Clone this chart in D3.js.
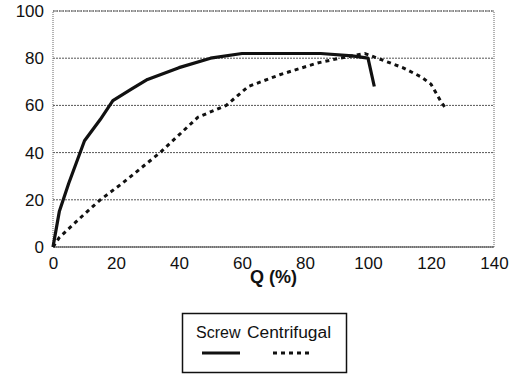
<!DOCTYPE html>
<html>
<head>
<meta charset="utf-8">
<script src="https://cdn.jsdelivr.net/npm/d3@7"></script>
<style>
  body { margin: 0; background: #fff; }
  text { font-family: "Liberation Sans", Arial, sans-serif; fill: #111; }
</style>
</head>
<body>
<svg id="chart" width="517" height="374"></svg>
<script>
// Efficiency vs flow
const screwQ = [0, 2, 5, 10, 15, 19, 25, 30, 40, 50, 60, 70, 85, 95, 100, 102];
const screwE = [0, 15, 27, 45, 54, 62, 67, 71, 76, 80, 82, 82, 82, 81, 80, 68];
const centQ = [0, 2, 10, 15, 22, 34, 46, 55, 62, 72, 84, 91, 99, 103, 111, 117, 120, 123, 124.5];
const centE = [0, 4, 14, 20, 27, 40, 55, 60, 68, 73, 78, 80, 82, 80, 76, 72, 69, 62, 59];
const xTicks = [0, 20, 40, 60, 80, 100, 120, 140];
const yTicks = [0, 20, 40, 60, 80, 100];
const seriesNames = ["Screw", "Centrifugal"];

const svg = d3.select("#chart");
const m = { left: 53, top: 11, right: 494, bottom: 247 };

const x = d3.scaleLinear().domain([0, 140]).range([m.left, m.right]);
const y = d3.scaleLinear().domain([0, 100]).range([m.bottom, m.top]);

// Grid
svg.append("g")
    .selectAll("line")
    .data(yTicks.filter(d => d > 0))
    .enter().append("line")
    .attr("x1", m.left).attr("x2", m.right)
    .attr("y1", d => y(d)).attr("y2", d => y(d))
    .attr("stroke", "#555")
    .attr("stroke-width", 1)
    .attr("stroke-dasharray", "2,1");

// Plot frame
svg.append("rect")
    .attr("x", m.left).attr("y", m.top)
    .attr("width", m.right - m.left).attr("height", m.bottom - m.top)
    .attr("fill", "none")
    .attr("stroke", "#666")
    .attr("stroke-dasharray", "1,1");

svg.append("line")
    .attr("x1", m.left).attr("x2", m.right)
    .attr("y1", m.bottom).attr("y2", m.bottom)
    .attr("stroke", "#333");

// Axes
const xAxis = svg.append("g")
    .attr("transform", `translate(0,${m.bottom})`)
    .call(d3.axisBottom(x).tickValues(xTicks).tickSize(0).tickPadding(10));
const yAxis = svg.append("g")
    .attr("transform", `translate(${m.left},0)`)
    .call(d3.axisLeft(y).tickValues(yTicks).tickSize(0).tickPadding(9));
[xAxis, yAxis].forEach(a => {
    a.select(".domain").remove();
    a.selectAll("text").attr("font-size", 17).attr("font-family", "Liberation Sans, Arial, sans-serif").attr("fill", "#111");
});

svg.append("text")
    .attr("x", (x(0) + x(140)) / 2)
    .attr("y", 283)
    .attr("text-anchor", "middle")
    .attr("font-size", 18)
    .attr("font-weight", "bold")
    .text("Q (%)");

// Lines
const line = d3.line().x(d => x(d[0])).y(d => y(d[1]));
const screw = screwQ.map((q, i) => [q, screwE[i]]);
const cent = centQ.map((q, i) => [q, centE[i]]);

svg.append("path")
    .datum(cent)
    .attr("d", line)
    .attr("fill", "none")
    .attr("stroke", "#111")
    .attr("stroke-width", 3)
    .attr("stroke-dasharray", "4,4");

svg.append("path")
    .datum(screw)
    .attr("d", line)
    .attr("fill", "none")
    .attr("stroke", "#111")
    .attr("stroke-width", 3.2)
    .attr("stroke-linejoin", "round");

// Legend
const lg = svg.append("g");
lg.append("rect")
    .attr("x", 182.5).attr("y", 313.5)
    .attr("width", 164).attr("height", 59)
    .attr("fill", "#fff")
    .attr("stroke", "#111")
    .attr("stroke-width", 1.5);

lg.append("text")
    .attr("x", 196).attr("y", 338)
    .attr("font-size", 16)
    .text(seriesNames[0]);
lg.append("text")
    .attr("x", 247).attr("y", 338)
    .attr("font-size", 16)
    .attr("textLength", 84)
    .attr("lengthAdjust", "spacingAndGlyphs")
    .text(seriesNames[1]);

lg.append("line")
    .attr("x1", 202).attr("x2", 240)
    .attr("y1", 353).attr("y2", 353)
    .attr("stroke", "#111").attr("stroke-width", 3);
lg.append("line")
    .attr("x1", 273).attr("x2", 311)
    .attr("y1", 353).attr("y2", 353)
    .attr("stroke", "#111").attr("stroke-width", 3)
    .attr("stroke-dasharray", "4,4");
</script>
</body>
</html>
